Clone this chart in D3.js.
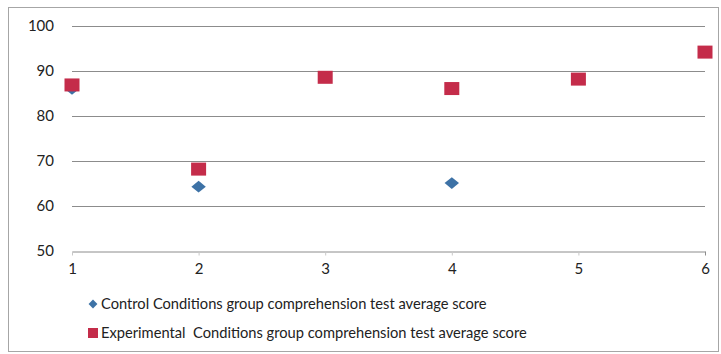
<!DOCTYPE html>
<html>
<head>
<meta charset="utf-8">
<script src="https://cdn.jsdelivr.net/npm/d3@7"></script>
<style>
  body { margin: 0; background: #fff; }
  svg { display: block; font-family: Lato, "Open Sans", sans-serif; }
</style>
</head>
<body>
<div id="chart"></div>
<script>
// scatter chart: control vs experimental

const xTicks = [1, 2, 3, 4, 5, 6];
const yTicks = [50, 60, 70, 80, 90, 100];
const controlX = [1, 2, 4];
const controlY = [86, 64.3, 65.1];
const experimentalX = [1, 2, 3, 4, 5, 6];
const experimentalY = [86.9, 68.2, 88.6, 86.1, 88.2, 94.2];
const seriesNames = [
  "Control Conditions group comprehension test average score",
  "Experimental  Conditions group comprehension test average score"
];
const colors = ["#3d72a6", "#c42c4a"];

const width = 721, height = 354;
const margin = { top: 26, right: 16, bottom: 103, left: 72 };

const svg = d3.select("#chart")
  .append("svg")
  .attr("width", width)
  .attr("height", height);

// outer border
svg.append("rect")
  .attr("x", 8.5).attr("y", 7.5)
  .attr("width", 710).attr("height", 344)
  .attr("fill", "none")
  .attr("stroke", "#a6a6a6");

const x = d3.scaleLinear().domain([1, 6]).range([margin.left, width - margin.right]);
const y = d3.scaleLinear().domain([50, 100]).range([height - margin.bottom, margin.top]);

// grid lines
svg.append("g")
  .selectAll("line")
  .data(yTicks.slice(1))
  .join("line")
  .attr("x1", x(1)).attr("x2", x(6))
  .attr("y1", d => Math.round(y(d)) + 0.5)
  .attr("y2", d => Math.round(y(d)) + 0.5)
  .attr("stroke", "#8c8c8c");

// x axis
const xAxis = svg.append("g")
  .attr("transform", `translate(0,${Math.round(y(50)) + 0.5})`)
  .call(d3.axisBottom(x).tickValues(xTicks).tickFormat(d3.format("d"))
    .tickSize(4).tickSizeOuter(0).tickPadding(8));
xAxis.select(".domain").attr("stroke", "#8c8c8c");
xAxis.selectAll(".tick line").attr("stroke", "#c8c8c8");
xAxis.select(".tick:last-of-type line").attr("stroke", "#8c8c8c");
xAxis.selectAll(".tick text")
  .attr("font-size", 15).attr("fill", "#222")
  .attr("font-family", "Lato, sans-serif");

// y labels
svg.append("g")
  .selectAll("text")
  .data(yTicks)
  .join("text")
  .attr("x", 54)
  .attr("y", d => y(d))
  .attr("dy", "0.35em")
  .attr("text-anchor", "end")
  .attr("font-size", 15)
  .attr("fill", "#222")
  .text(d => d);

const diamond = d3.symbol().type(d3.symbolDiamond).size(80);

// control diamonds (first series, drawn under the squares)
svg.append("g")
  .selectAll("path")
  .data(controlX.map((d, i) => [d, controlY[i]]))
  .join("path")
  .attr("transform", d => `translate(${x(d[0])},${y(d[1])}) scale(1.5,0.7)`)
  .attr("d", diamond)
  .attr("fill", colors[0]);

// experimental squares
svg.append("g")
  .selectAll("rect")
  .data(experimentalX.map((d, i) => [d, experimentalY[i]]))
  .join("rect")
  .attr("x", d => x(d[0]) - 7.5)
  .attr("y", d => y(d[1]) - 6.5)
  .attr("width", 15)
  .attr("height", 13)
  .attr("fill", colors[1]);

// legend
const legend = svg.append("g");
legend.append("path")
  .attr("transform", "translate(93,304) scale(1.3,0.75)")
  .attr("d", d3.symbol().type(d3.symbolDiamond).size(40))
  .attr("fill", colors[0]);
legend.append("rect")
  .attr("x", 88).attr("y", 328).attr("width", 10).attr("height", 10)
  .attr("fill", colors[1]);
const legendText = legend.selectAll("text")
  .data(seriesNames)
  .join("text")
  .attr("x", 101)
  .attr("y", (d, i) => 304 + i * 29)
  .attr("dy", "0.35em")
  .attr("font-size", 15)
  .attr("fill", "#222")
  .style("white-space", "pre")
  .text(d => d);

// squeeze the first line to the width seen in the reference, keep same size for both
const w = legendText.node().getComputedTextLength();
const fs = 15 * 386 / w;
legendText.attr("font-size", fs);
</script>
</body>
</html>
